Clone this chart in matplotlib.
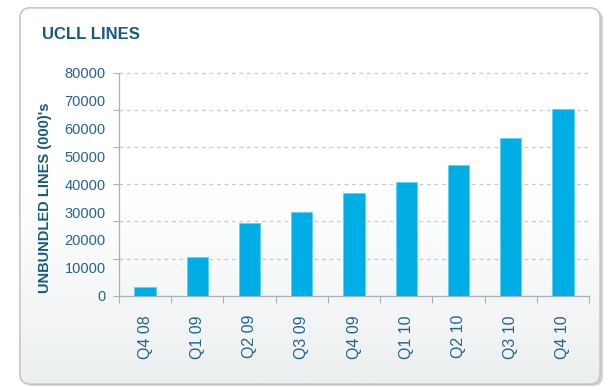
import numpy as np
import matplotlib
matplotlib.use("Agg")
import matplotlib.pyplot as plt
from matplotlib.patches import FancyBboxPatch
from matplotlib import font_manager

categories = ["Q4 08", "Q1 09", "Q2 09", "Q3 09", "Q4 09", "Q1 10", "Q2 10", "Q3 10", "Q4 10"]
values = [3100, 13900, 26100, 29900, 36900, 41000, 46800, 56800, 67000]
ytick_values = [0, 10000, 20000, 30000, 40000, 50000, 60000, 70000, 80000]
ytick_labels = ["0", "10000", "20000", "30000", "40000", "50000", "60000", "70000", "80000"]
title = "UCLL LINES"
ylabel = "UNBUNDLED LINES (000)'s"

names = {f.name for f in font_manager.fontManager.ttflist}
base = "Liberation Sans" if "Liberation Sans" in names else "DejaVu Sans"
narrow = "Liberation Sans Narrow" if "Liberation Sans Narrow" in names else base
plt.rcParams['font.family'] = [base, 'DejaVu Sans']

TITLE = "#185a7c"
TXT = "#23658a"
BAR = "#00aee6"
GRID = "#c3cbd0"
AX = "#a7b1b7"

fig = plt.figure(figsize=(6.10, 3.87), dpi=100)
fig.patch.set_facecolor("white")

# panel background with shadow and gradient
bg = fig.add_axes([0, 0, 1, 1], zorder=-10)
bg.set_xlim(0, 610)
bg.set_ylim(387, 0)
bg.axis("off")
shadow = FancyBboxPatch((23, 10), 580, 376, boxstyle="round,pad=0,rounding_size=10",
                        facecolor="#c9c9c9", edgecolor="none", alpha=0.8)
bg.add_patch(shadow)
panel = FancyBboxPatch((20, 8), 580, 376, boxstyle="round,pad=0,rounding_size=10",
                       facecolor="white", edgecolor="#c4c4c4", linewidth=1.0)
bg.add_patch(panel)
grad = np.linspace(0, 1, 256)[:, None]
cmap = matplotlib.colors.LinearSegmentedColormap.from_list("g", ["#ffffff", "#ffffff", "#eceff0"])
im = bg.imshow(grad, extent=(20, 600, 384, 8), cmap=cmap, aspect="auto", zorder=1)
im.set_clip_path(panel)
bg.add_patch(FancyBboxPatch((20, 8), 580, 376, boxstyle="round,pad=0,rounding_size=10",
                            facecolor="none", edgecolor="#c4c4c4", linewidth=1.0, zorder=2))

fig.text(42 / 610, 1 - 34.5 / 387, title, fontsize=12, fontweight="bold", color=TITLE,
         family=[narrow, 'DejaVu Sans'], ha="left", va="center")

ax = fig.add_axes([119 / 610, 1 - 295.6 / 387, 470 / 610, 222.6 / 387])
ax.patch.set_alpha(0)
x = np.arange(len(categories))
ax.bar(x, values, width=0.41, color=BAR, edgecolor="#5fd0f5", linewidth=0.6, zorder=3)
ax.set_xlim(-0.5, len(categories) - 0.5)
ax.set_ylim(0, 80000)

ax.yaxis.remove_overlapping_locs = False
ax.set_yticks(ytick_values)
ax.set_yticklabels(ytick_labels)
ax.set_yticks(np.linspace(0, 80000, 7), minor=True)
ax.tick_params(axis="y", which="major", length=0, pad=9.5, labelsize=10.5, labelcolor=TXT)
ax.tick_params(axis="y", which="minor", length=4.5, color=AX, width=0.8)
ax.grid(axis="y", which="minor", linestyle=(0, (3, 3)), color=GRID, linewidth=0.9, zorder=0)
ax.grid(axis="y", which="major", visible=False)
for t in ax.yaxis.get_minor_ticks():
    t.gridline.set_clip_on(False)

ax.set_xticks(x)
ax.set_xticklabels(categories, rotation=90, va="top", ha="center")
ax.set_xticks(np.arange(len(categories) + 1) - 0.5, minor=True)
ax.tick_params(axis="x", which="major", length=0, pad=14, labelsize=11.5, labelcolor=TXT)
ax.tick_params(axis="x", which="minor", length=5, color=AX, width=0.8, direction="out")

for s in ["top", "right"]:
    ax.spines[s].set_visible(False)
for s in ["left", "bottom"]:
    ax.spines[s].set_color(AX)
    ax.spines[s].set_linewidth(0.9)

fig.text(45 / 610, 1 - 198 / 387, ylabel, rotation=90, fontsize=10.5, fontweight="bold",
         color=TITLE, ha="center", va="center")

fig.savefig("out.png", dpi=100)
